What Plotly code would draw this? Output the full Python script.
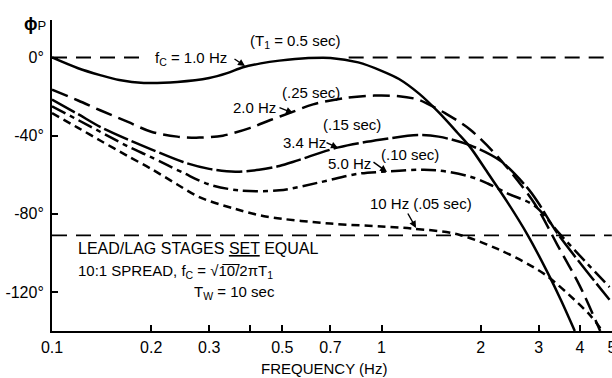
import plotly.graph_objects as go

# ---------------- data (frequency in Hz, phase in degrees) ----------------
f_fc1 = [0.1, 0.12, 0.14, 0.16, 0.19, 0.24, 0.3, 0.34, 0.38, 0.43, 0.49, 0.6, 0.7, 0.85, 1.0, 1.13, 1.3, 1.49, 1.7, 1.86, 2.1, 2.41, 2.78, 3.19, 3.5, 3.86]
p_fc1 = [0, -5.5, -9, -11.5, -13, -12.5, -10.5, -8, -5, -3, -1.6, -0.3, -0.2, -2.5, -6.8, -11, -18.5, -28, -38.5, -46, -59, -74, -91, -110, -124, -140]

f_fc2 = [0.1, 0.12, 0.14, 0.17, 0.2, 0.24, 0.28, 0.33, 0.4, 0.46, 0.525, 0.62, 0.78, 0.95, 1.13, 1.29, 1.39, 1.56, 1.86, 2.3, 2.92, 3.42, 4.0, 4.61]
p_fc2 = [-16.5, -22, -27, -33, -38, -40.5, -41, -40, -36, -32, -28.5, -24, -20.7, -19.5, -19.8, -21.5, -24, -28.5, -37, -52.5, -75, -96, -117, -140]

f_fc34 = [0.1, 0.12, 0.14, 0.17, 0.2, 0.25, 0.3, 0.36, 0.425, 0.49, 0.56, 0.74, 1.0, 1.29, 1.49, 1.86, 2.3, 2.78, 2.98, 3.42, 4.13, 4.92]
p_fc34 = [-21.5, -29, -35.5, -42, -47, -53.5, -57, -58.5, -57.5, -55.5, -52.5, -46, -42, -39.7, -40.5, -45, -53, -67, -74, -90, -108, -124]

f_fc5 = [0.1, 0.12, 0.14, 0.17, 0.2, 0.25, 0.3, 0.37, 0.49, 0.645, 0.85, 1.0, 1.29, 1.49, 1.86, 2.1, 2.41, 2.92, 3.42, 4.13, 4.92]
p_fc5 = [-25, -32, -38, -45.5, -51, -59, -65, -68, -68, -64, -59.5, -58.5, -57.5, -57.8, -61, -64.5, -69.5, -76, -89, -104, -117.5]

f_fc10 = [0.1, 0.12, 0.14, 0.17, 0.2, 0.24, 0.28, 0.36, 0.45, 0.7, 1.0, 1.23, 1.7, 2.25, 2.8, 3.19, 3.85, 4.3, 4.68]
p_fc10 = [-28.5, -36, -42.5, -50.5, -57, -65, -71.5, -77.5, -81.5, -85, -86.5, -87.5, -90.5, -98, -106, -112, -124, -132, -140]

# reference (dashed) levels
ref0_seg1 = [0.1, 0.19]
ref0_seg2 = [0.795, 5.0]
ref0_val = 0
ref91_seg = [0.1, 5.0]
ref91_val = -91

x_tickvals = [0.1, 0.2, 0.3, 0.4, 0.5, 0.7, 1, 2, 3, 4, 5]
x_ticktext = ["0.1", "0.2", "0.3", "", "0.5", "0.7", "1", "2", "3", "4", "5"]
y_tickvals = [0, -40, -80, -120]
y_ticktext = ["0°", "-40°", "-80°", "-120°"]

# ---------------- figure ----------------
W, H = 612, 378
ML, MR, MT, MB = 52, 0, 20, 47
FONT = "Liberation Sans, Arial, sans-serif"


def pxx(x):
    return (x - ML) / (W - ML - MR)


def pxy(y):
    return (H - MB - y) / (H - MT - MB)


fig = go.Figure()

lw = 2.5
curves = [
    (f_fc1, p_fc1, "solid"),
    (f_fc2, p_fc2, "17px,7px"),
    (f_fc34, p_fc34, "26px,4px"),
    (f_fc5, p_fc5, "15px,5px,5px,5px"),
    (f_fc10, p_fc10, "8px,5px"),
]
for fx, py_, dash in curves:
    fig.add_trace(go.Scatter(x=fx, y=py_, mode="lines",
                             line=dict(color="black", width=lw, dash=dash,
                                       shape="spline", smoothing=0.9),
                             hoverinfo="skip"))

for seg, val in [(ref0_seg1, ref0_val), (ref0_seg2, ref0_val), (ref91_seg, ref91_val)]:
    fig.add_trace(go.Scatter(x=seg, y=[val] * len(seg), mode="lines",
                             line=dict(color="black", width=1.8, dash="15px,9px"),
                             hoverinfo="skip"))

annots = []


def label(text, x, y, size=15, xanchor="left", yanchor="middle"):
    annots.append(dict(text=text, x=pxx(x), y=pxy(y), xref="paper", yref="paper",
                       xanchor=xanchor, yanchor=yanchor, showarrow=False,
                       font=dict(family=FONT, size=size, color="black")))


def arrow(tail, tip):
    annots.append(dict(text="", x=pxx(tip[0]), y=pxy(tip[1]), xref="paper", yref="paper",
                       ax=tail[0] - tip[0], ay=tail[1] - tip[1], showarrow=True,
                       arrowhead=2, arrowsize=1.0, arrowwidth=1.4, arrowcolor="black"))


label("<b>ϕ</b><span style='font-size:13px'>P</span>", 22, 24, size=18)
label("f<sub>C</sub> = 1.0 Hz", 153, 58)
label("(T<sub>1</sub> = 0.5 sec)", 248, 42)
label("(.25 sec)", 280, 92)
label("2.0 Hz", 231, 108)
label("(.15 sec)", 321, 125)
label("3.4 Hz", 281, 142)
label("(.10 sec)", 379, 154)
label("5.0 Hz", 326, 163)
label("10 Hz (.05 sec)", 368, 203)
label("LEAD/LAG STAGES <u>SET</u> EQUAL", 76, 248, size=16)
label("10:1 SPREAD, f<sub>C</sub> = √1̅0̅/2πT<sub>1</sub>", 76, 271)
label("T<sub>W</sub> = 10 sec", 192, 292)
label("FREQUENCY (Hz)", 324, 368, size=15, xanchor="center")

arrow((233, 58), (245, 66))
arrow((278, 107), (293, 113))
arrow((325, 142), (338, 148))
arrow((372, 161), (387, 172))
arrow((407, 212), (416, 228))

fig.update_layout(
    width=W, height=H,
    margin=dict(l=ML, r=MR, t=MT, b=MB, pad=0, autoexpand=False),
    paper_bgcolor="white", plot_bgcolor="white",
    showlegend=False,
    font=dict(family=FONT, size=16, color="black"),
    annotations=annots,
    xaxis=dict(type="log", range=[-1, 0.6995], tickvals=x_tickvals, ticktext=x_ticktext,
               ticks="inside", ticklen=6, tickwidth=1.5, tickcolor="black",
               showline=True, linewidth=2, linecolor="black", showgrid=False,
               zeroline=False, ticklabeloverflow="allow", ticklabelstandoff=1,
               automargin=False, tickfont=dict(family=FONT, size=16)),
    yaxis=dict(range=[-140, 19.2], tickvals=y_tickvals, ticktext=y_ticktext,
               ticks="inside", ticklen=6, tickwidth=1.5, tickcolor="black",
               showline=True, linewidth=2, linecolor="black", showgrid=False,
               zeroline=False, ticklabelstandoff=3, automargin=False,
               tickfont=dict(family=FONT, size=16)),
)

fig.write_html("out.html")
